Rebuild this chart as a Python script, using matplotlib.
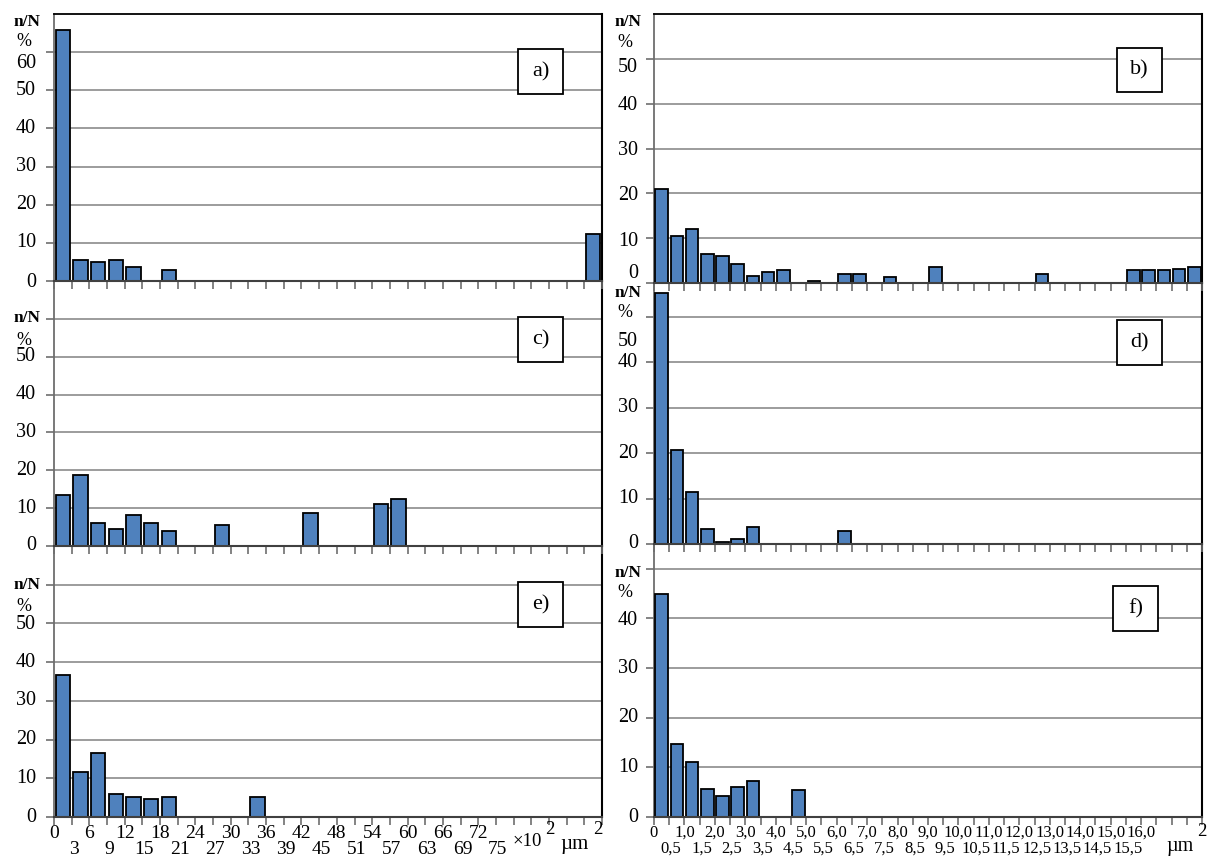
import numpy as np
import matplotlib
matplotlib.use("Agg")
import matplotlib.pyplot as plt
from matplotlib.patches import Rectangle

plt.rcParams['font.family'] = ['Liberation Serif', 'DejaVu Serif']

# ---------------- data ----------------
left_xlabels = ["0", "3", "6", "9", "12", "15", "18", "21", "24", "27", "30", "33", "36",
                "39", "42", "45", "48", "51", "54", "57", "60", "63", "66", "69", "72", "75"]
right_xlabels = ["0", "0,5", "1,0", "1,5", "2,0", "2,5", "3,0", "3,5", "4,0", "4,5", "5,0",
                 "5,5", "6,0", "6,5", "7,0", "7,5", "8,0", "8,5", "9,0", "9,5", "10,0",
                 "10,5", "11,0", "11,5", "12,0", "12,5", "13,0", "13,5", "14,0", "14,5",
                 "15,0", "15,5", "16,0"]

# left column: 31 bins (x10^2 um^2), right column: 36 bins (um^2)
a_vals = [65.8, 5.4, 4.9, 5.4, 3.6, 0, 2.8, 0, 0, 0, 0, 0, 0, 0, 0, 0,
          0, 0, 0, 0, 0, 0, 0, 0, 0, 0, 0, 0, 0, 0, 12.2]
c_vals = [13.4, 18.7, 6.0, 4.4, 8.2, 6.0, 3.9, 0, 0, 5.5, 0, 0, 0, 0, 8.7, 0,
          0, 0, 11.2, 12.5, 0, 0, 0, 0, 0, 0, 0, 0, 0, 0, 0]
e_vals = [36.7, 11.5, 16.5, 5.9, 5.1, 4.7, 5.1, 0, 0, 0, 0, 5.1, 0, 0, 0, 0,
          0, 0, 0, 0, 0, 0, 0, 0, 0, 0, 0, 0, 0, 0, 0]
b_vals = [21.0, 10.5, 12.0, 6.4, 6.1, 4.3, 1.6, 2.4, 2.8, 0, 0.5, 0, 2.0, 2.0, 0, 1.3,
          0, 0, 3.5, 0, 0, 0, 0, 0, 0, 2.0, 0, 0, 0, 0, 0, 2.8, 2.8, 2.8, 3.1, 3.5]
d_vals = [55.4, 20.6, 11.5, 3.2, 0.5, 1.0, 3.8, 0, 0, 0, 0, 0, 2.8, 0, 0, 0,
          0, 0, 0, 0, 0, 0, 0, 0, 0, 0, 0, 0, 0, 0, 0, 0, 0, 0, 0, 0]
f_vals = [45.0, 14.7, 11.0, 5.6, 4.3, 6.0, 7.3, 0, 0, 5.4, 0, 0, 0, 0, 0, 0,
          0, 0, 0, 0, 0, 0, 0, 0, 0, 0, 0, 0, 0, 0, 0, 0, 0, 0, 0, 0]

# y tick labels (text, position) per panel
a_ylab = (["0", "10", "20", "30", "40", "50", "60"], [-0.5, 10, 20, 30, 40, 50, 57])
c_ylab = (["0", "10", "20", "30", "40", "50"], [0, 10, 20, 30, 40, 50])
e_ylab = (["0", "10", "20", "30", "40", "50"], [0, 10, 20, 30, 40, 49.6])
b_ylab = (["0", "10", "20", "30", "40", "50"], [2.2, 9.3, 19.5, 29.5, 39.5, 48])
d_ylab = (["0", "10", "20", "30", "40", "50"], [0, 10, 20, 30, 39.9, 44.7])
f_ylab = (["0", "10", "20", "30", "40"], [0, 10, 20, 30, 39.5])

# ---------------- layout ----------------
W, H = 1208, 858
fig = plt.figure(figsize=(W / 100, H / 100), dpi=100)
fig.patch.set_facecolor('white')

BAR = '#4F81BD'
GRID = '#9c9c9c'
AX = '#6e6e6e'

cols = {'L': (54, 602), 'R': (654, 1202)}


def make_panel(col, top, bottom, ymax, vals, grid_max, ylab, nN_y, pct_y,
               tag, box, xlabels=None, xfs=14):
    x0, x1 = cols[col]
    ax = fig.add_axes([x0 / W, 1 - bottom / H, (x1 - x0) / W, (bottom - top) / H])
    n = len(vals)
    v = np.array(vals, dtype=float)
    xs = np.arange(n) + 0.5
    m = v > 0
    ax.bar(xs[m], v[m], width=0.82, color=BAR, edgecolor='black', linewidth=1.3, zorder=3)
    ax.set_xlim(0, n)
    ax.set_ylim(0, ymax)
    grid_vals = np.arange(0, grid_max + 1, 10)
    for g in grid_vals[1:]:
        ax.axhline(g, color=GRID, lw=1.4, zorder=1)
    ax.set_yticks(grid_vals)
    ax.set_yticklabels([])
    ax.set_xticks(np.arange(n + 1))
    ax.set_xticklabels([])
    ax.tick_params(axis='y', direction='out', length=6, width=1.2, color=AX)
    ax.tick_params(axis='x', direction='out', length=6, width=1.2, color=AX)
    ax.spines['left'].set_color(AX)
    ax.spines['left'].set_linewidth(1.3)
    ax.spines['bottom'].set_color('#404040')
    ax.spines['bottom'].set_linewidth(1.5)
    ax.spines['bottom'].set_zorder(4)
    ax.spines['top'].set_color('black')
    ax.spines['right'].set_color('black')
    ax.spines['top'].set_linewidth(1.3)
    ax.spines['right'].set_linewidth(1.5)
    off = -18 if col == 'L' else -16
    for t, yv in zip(*ylab):
        ax.annotate(t, xy=(0, yv), xycoords=('axes fraction', 'data'),
                    xytext=(off, 0), textcoords='offset pixels',
                    ha='right', va='center', fontsize=14.5, annotation_clip=False)
    nx = -27 if col == 'L' else -26
    ax.annotate('n/N', xy=(0, nN_y), xycoords=('axes fraction', 'data'),
                xytext=(nx, 0), textcoords='offset pixels', ha='center', va='center',
                fontsize=12.5, fontweight='bold', annotation_clip=False)
    ax.annotate('%', xy=(0, pct_y), xycoords=('axes fraction', 'data'),
                xytext=(nx - 3, 0), textcoords='offset pixels', ha='center', va='center',
                fontsize=13, annotation_clip=False)
    if xlabels is not None:
        for i, t in enumerate(xlabels):
            dy = -16 if i % 2 == 0 else -32
            dx = 0 if i % 2 == 0 else 2
            ax.annotate(t, xy=(i, 0), xycoords='data', xytext=(dx, dy),
                        textcoords='offset pixels', ha='center', va='center',
                        fontsize=xfs, annotation_clip=False)
    # tag box
    bx0, by0, bx1, by1 = box
    fig.add_artist(Rectangle((bx0 / W, 1 - by1 / H), (bx1 - bx0) / W, (by1 - by0) / H,
                             transform=fig.transFigure, facecolor='white',
                             edgecolor='black', lw=1.3, zorder=10))
    fig.text((bx0 + bx1) / 2 / W, 1 - (by0 + by1) / 2 / H, tag, ha='center',
             va='center', fontsize=16, zorder=11)
    return ax


# bottom panels first so upper panels' tick marks are drawn on top
make_panel('L', 546, 817, 70, e_vals, 60, e_ylab, 60, 54.3, 'e)', (518, 582, 563, 627),
           xlabels=left_xlabels, xfs=14)
make_panel('L', 281, 546, 70, c_vals, 60, c_ylab, 60.2, 54.4, 'c)', (518, 317, 563, 362))
make_panel('L', 14, 281, 70, a_vals, 60, a_ylab, 68, 62.7, 'a)', (518, 49, 563, 94))

make_panel('R', 544, 817, 55, f_vals, 50, f_ylab, 49.2, 45.2, 'f)', (1113, 586, 1158, 631),
           xlabels=right_xlabels, xfs=12)
make_panel('R', 283, 544, 57.5, d_vals, 50, d_ylab, 55.3, 50.9, 'd)', (1117, 320, 1162, 365))
make_panel('R', 14, 283, 60, b_vals, 50, b_ylab, 58.3, 53.6, 'b)', (1117, 48, 1162, 92))

# unit annotations
fig.text(513 / W, 1 - 842 / H, '×10', ha='left', va='center', fontsize=13.5)
fig.text(545 / W, 1 - 830 / H, '2', ha='left', va='center', fontsize=13.5)
fig.text(560 / W, 1 - 845 / H, 'µm', ha='left', va='center', fontsize=15)
fig.text(593 / W, 1 - 830 / H, '2', ha='left', va='center', fontsize=13.5)
fig.text(1166 / W, 1 - 846 / H, 'µm', ha='left', va='center', fontsize=14.5)
fig.text(1197 / W, 1 - 832 / H, '2', ha='left', va='center', fontsize=13.5)

fig.savefig('out.png', dpi=100, facecolor='white')
